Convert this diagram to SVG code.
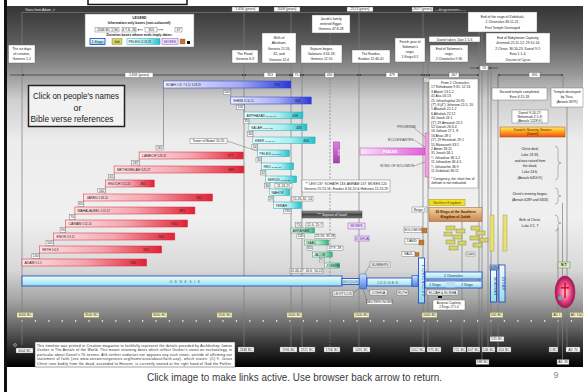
<svg xmlns="http://www.w3.org/2000/svg" width="587" height="392" viewBox="0 0 587 392">
<defs>
<linearGradient id="bg" x1="0" y1="6" x2="0" y2="367" gradientUnits="userSpaceOnUse">
<stop offset="0" stop-color="#353535"/><stop offset=".094" stop-color="#5a5a5a"/><stop offset=".19" stop-color="#9a9a9a"/><stop offset=".26" stop-color="#cfcfcf"/><stop offset=".37" stop-color="#ececec"/><stop offset=".59" stop-color="#f0f0f0"/><stop offset=".73" stop-color="#d8d8d8"/><stop offset=".814" stop-color="#a5a5a5"/><stop offset=".884" stop-color="#6a6a6a"/><stop offset=".94" stop-color="#333"/><stop offset="1" stop-color="#000"/>
</linearGradient>
<linearGradient id="gR"><stop offset="0" stop-color="#fde2e5"/><stop offset=".5" stop-color="#f5a4ae"/><stop offset="1" stop-color="#e02234"/></linearGradient>
<linearGradient id="gB"><stop offset="0" stop-color="#f2f3ff"/><stop offset=".6" stop-color="#a4aaf2"/><stop offset="1" stop-color="#2a3ad8"/></linearGradient>
<linearGradient id="gT"><stop offset="0" stop-color="#f0ffff"/><stop offset=".6" stop-color="#a8eef0"/><stop offset="1" stop-color="#26c0c8"/></linearGradient>
<linearGradient id="gG"><stop offset="0" stop-color="#f0fff4"/><stop offset=".6" stop-color="#a8e8c8"/><stop offset="1" stop-color="#36b080"/></linearGradient>
<linearGradient id="gC" x1="0" y1="0" x2="0" y2="1"><stop offset="0" stop-color="#f0ffff"/><stop offset="1" stop-color="#94dcea"/></linearGradient>
<linearGradient id="gBV" x1="0" y1="0" x2="0" y2="1"><stop offset="0" stop-color="#c8e4ff"/><stop offset="1" stop-color="#5080e0"/></linearGradient>
<linearGradient id="gO" x1="0" y1="0" x2="0" y2="1"><stop offset="0" stop-color="#ffec60"/><stop offset=".5" stop-color="#ffa020"/><stop offset="1" stop-color="#ee5010"/></linearGradient>
<linearGradient id="gTan" x1="0" y1="0" x2="0" y2="1"><stop offset="0" stop-color="#f6d4a4"/><stop offset="1" stop-color="#c88850"/></linearGradient>
<linearGradient id="gP"><stop offset="0" stop-color="#f8e2f8"/><stop offset="1" stop-color="#e060d8"/></linearGradient>
<linearGradient id="gPV" x1="0" y1="0" x2="0" y2="1"><stop offset="0" stop-color="#e080e0"/><stop offset="1" stop-color="#a040b0"/></linearGradient>
<linearGradient id="gGr" x1="0" y1="0" x2="0" y2="1"><stop offset="0" stop-color="#9a9a9a"/><stop offset=".5" stop-color="#444"/><stop offset="1" stop-color="#777"/></linearGradient>
<radialGradient id="gE"><stop offset="0" stop-color="#ffe0ec"/><stop offset=".55" stop-color="#e85090"/><stop offset="1" stop-color="#a01048"/></radialGradient>
<marker id="ar" viewBox="0 0 6 6" refX="6" refY="3" markerWidth="3" markerHeight="3" orient="auto-start-reverse"><path d="M0,0L6,3L0,6z" fill="#333"/></marker>
</defs>
<style>
.b{fill:#fff;stroke:#606060;stroke-width:.4}
.t{font-family:"Liberation Sans",Arial,sans-serif;font-size:3.4px;fill:#222}
.m{text-anchor:middle}
.v{stroke:#7c7c7c;stroke-width:.7;fill:none}
.r{fill:url(#gR);stroke:#d42a3a;stroke-width:.5}
.bl{fill:url(#gB);stroke:#2a3ad0;stroke-width:.5}
.tl{fill:url(#gT);stroke:#22a8b4;stroke-width:.5}
.gr{fill:url(#gG);stroke:#2e9a6e;stroke-width:.5}
.cy{fill:url(#gC);stroke:#1a3cc8;stroke-width:.8}
.yl{fill:#fbf6c8;stroke:#8a8a50;stroke-width:.4}
.ol{fill:#d6d46a;stroke:#7a7a30;stroke-width:.4}
.ld{stroke:#555;stroke-width:.4;fill:none}
.sp{stroke:#333;stroke-width:.7;fill:none;marker-start:url(#ar);marker-end:url(#ar)}
</style>
<rect width="587" height="392" fill="#fff"/>
<g id="frame">
<rect x="7" y="6" width="576" height="361" fill="url(#bg)"/>
<rect x="4" y="0" width="3" height="392" fill="#111"/>
<rect x="88" y="-4" width="99" height="8.5" fill="#fff" stroke="#111" stroke-width="1.5"/>
<line x1="21.4" y1="321" x2="573" y2="321" stroke="#f4f4f4" stroke-width="1.3" stroke-dasharray="1.3 12.1"/>
</g>
<g id="connectors">
<line class="v" x1="22" y1="12.5" x2="480" y2="12.5"/>
<line class="v" x1="22" y1="12.5" x2="22" y2="345"/>
<line class="v" x1="244" y1="12.5" x2="244" y2="347"/>
<line class="v" x1="291" y1="12.5" x2="291" y2="347"/>
<line class="v" x1="302" y1="63" x2="302" y2="347"/>
<line class="v" x1="330" y1="33" x2="330" y2="347" stroke-dasharray="2 1.5"/>
<line class="v" x1="359" y1="12.5" x2="359" y2="347"/>
<line class="v" x1="423" y1="12.5" x2="423" y2="347"/>
<line class="v" x1="428" y1="62" x2="428" y2="347"/>
<line class="v" x1="462" y1="222" x2="462" y2="347"/>
<line class="v" x1="479" y1="32" x2="479" y2="347"/>
<line class="v" x1="482" y1="32" x2="482" y2="361"/>
<line class="v" x1="488" y1="63" x2="488" y2="347"/>
<line class="v" x1="491" y1="63" x2="491" y2="337"/>
<line class="v" x1="498" y1="75" x2="498" y2="347"/>
<line class="v" x1="558" y1="228" x2="558" y2="347"/>
<line class="v" x1="562.5" y1="203" x2="562.5" y2="361"/>
<line class="v" x1="567" y1="107" x2="567" y2="347"/>
<line class="v" x1="163.5" y1="88" x2="163.5" y2="145.5"/>
<line x1="10" y1="75" x2="22" y2="75" stroke="#333" stroke-width=".7"/>
<line class="sp" x1="22" y1="75" x2="244" y2="75"/>
<line class="sp" x1="244" y1="75" x2="291" y2="75"/>
<line class="sp" x1="291" y1="75" x2="302" y2="75"/>
<line class="sp" x1="302" y1="75" x2="359" y2="75"/>
<line class="sp" x1="359" y1="75" x2="423" y2="75"/>
<line class="sp" x1="423" y1="75" x2="428" y2="75"/>
<line class="sp" x1="428" y1="75" x2="479" y2="75"/>
<line x1="470" y1="68" x2="479" y2="68" stroke="#333" stroke-width=".6" marker-end="url(#ar)"/>
<line x1="498" y1="68" x2="489" y2="68" stroke="#333" stroke-width=".6" marker-end="url(#ar)"/>
<line class="sp" x1="498" y1="75" x2="563" y2="75"/>
<line class="v" x1="498" y1="75" x2="498" y2="87"/>
<line class="v" x1="563" y1="75" x2="563" y2="87"/>
<line class="ld" x1="139.1" y1="159" x2="139.1" y2="166"/>
<line class="ld" x1="114.1" y1="173" x2="114.1" y2="180"/>
<line class="ld" x1="105.3" y1="187" x2="105.3" y2="194"/>
<line class="ld" x1="83.6" y1="201" x2="83.6" y2="207"/>
<line class="ld" x1="74.9" y1="214" x2="74.9" y2="220"/>
<line class="ld" x1="65.6" y1="227" x2="65.6" y2="233"/>
<line class="ld" x1="53.5" y1="240" x2="53.5" y2="246"/>
<line class="ld" x1="39.4" y1="253" x2="39.4" y2="259"/>
<line class="ld" x1="230.8" y1="88" x2="230.8" y2="97"/>
<line class="ld" x1="244.2" y1="104" x2="244.2" y2="112"/>
<line class="ld" x1="248.9" y1="118.5" x2="248.9" y2="124"/>
<line class="ld" x1="252.9" y1="130.5" x2="252.9" y2="137"/>
<line class="ld" x1="257.4" y1="143.5" x2="257.4" y2="150"/>
<line class="ld" x1="261.5" y1="156.5" x2="261.5" y2="163"/>
<line class="ld" x1="265.7" y1="169.5" x2="265.7" y2="176"/>
<line class="ld" x1="269.8" y1="182.5" x2="269.8" y2="189"/>
<line class="ld" x1="273.7" y1="195.5" x2="273.7" y2="202"/>
<line class="ld" x1="227" y1="141" x2="257" y2="151"/>
<line class="ld" x1="413" y1="127" x2="425" y2="137"/>
<line class="ld" x1="414" y1="140" x2="425" y2="147"/>
<line class="ld" x1="414" y1="166" x2="425" y2="162"/>
<line class="ld" x1="370" y1="265" x2="364" y2="275"/>
<line class="ld" x1="353" y1="293" x2="360" y2="288"/>
<line class="ld" x1="370" y1="292" x2="366" y2="288"/>
<line class="ld" x1="367" y1="301" x2="363" y2="289"/>
<path class="ld" d="M555,146q3,0 3,4v10q0,3 3,3q-3,0 -3,3v10q0,4 -3,4"/>
<path class="ld" d="M555,188q3,0 3,3v3q0,2 3,2q-3,0 -3,2v3q0,3 -3,3"/>
<path class="ld" d="M555,215q3,0 3,3v3q0,2 3,2q-3,0 -3,2v3q0,3 -3,3"/>
</g>
<g id="header">
<text class="t" x="25" y="10.8" style="fill:#e8e8e8">Years from Adam -&gt;</text>
<rect class="b" x="232" y="7" width="27" height="4.5"/><text class="t m" x="245.5" y="10.4" font-size="3.2">1,656 (years)</text>
<rect class="b" x="274" y="7" width="26" height="4.5"/><text class="t m" x="287" y="10.4" font-size="3.2">2008 (years)</text>
<rect class="b" x="347" y="7" width="26" height="4.5"/><text class="t m" x="360" y="10.4" font-size="3.2">2513 (years)</text>
<rect class="b" x="412" y="7" width="21" height="4.5"/><text class="t m" x="422.5" y="10.4" font-size="3.2">2927 (years)</text>
<text class="t" x="435" y="10.6" font-size="3.2" style="fill:#ddd">—disagreement—→</text>
<rect class="b" x="125" y="72.5" width="28" height="5"/><text class="t m" x="139" y="76.2" font-size="3.2">1,656 (years)</text>
<rect class="b" x="264" y="72.5" width="12" height="5"/><text class="t m" x="270" y="76.2">353</text>
<rect class="b" x="293" y="72.5" width="7" height="5"/><text class="t m" x="296.5" y="76.2">75</text>
<rect class="b" x="325" y="72.5" width="9" height="5"/><text class="t m" x="329.5" y="76.2">430</text>
<rect class="b" x="386" y="72.5" width="12" height="5"/><text class="t m" x="392" y="76.2">479</text>
<rect class="b" x="424" y="77.5" width="5.5" height="4.5"/><text class="t m" x="426.7" y="80.9" font-size="3">37</text>
<rect class="b" x="449" y="72.5" width="10" height="5"/><text class="t m" x="454" y="76.2">267</text>
<rect class="b" x="480" y="65.8" width="8" height="4.5"/><text class="t m" x="484" y="69.2">70</text>
<rect class="b" x="529" y="72.5" width="11" height="5"/><text class="t m" x="534.5" y="76.2">490</text>
</g>
<g id="legend">
<rect x="85" y="14" width="109" height="33" fill="#fff" stroke="#777" stroke-width=".5"/>
<text class="t m" x="139.5" y="19" font-weight="bold" font-size="3.8">LEGEND</text>
<text class="t m" x="139.5" y="24.3" font-weight="bold">Information only boxes (non-coloured):</text>
<rect class="b" x="95" y="27.5" width="17" height="4.5"/><text class="t m" x="103.5" y="30.9" font-size="3">2348 BC</text>
<rect class="b" x="113" y="27.5" width="6" height="4.5"/><text class="t m" x="116" y="30.9" font-size="3">36</text>
<rect class="b" x="122" y="27.5" width="14" height="4.5"/><text class="t m" x="129" y="30.9" font-size="3">4 T.S. 26</text>
<line x1="143" y1="29.75" x2="137.5" y2="29.75" stroke="#333" stroke-width=".5" marker-end="url(#ar)"/>
<rect class="b" x="145" y="27.5" width="12" height="4.5"/><text class="t m" x="151" y="30.9" font-size="3">353</text>
<line x1="157.5" y1="29.75" x2="163" y2="29.75" stroke="#333" stroke-width=".5" marker-end="url(#ar)"/>
<rect class="b" x="175" y="27.5" width="7" height="4.5"/><text class="t m" x="178.5" y="30.9" font-size="3">37</text>
<text class="t m" x="139.5" y="35.8" font-weight="bold">Duration boxes whose ends imply dates:</text>
<rect x="90" y="38.5" width="15" height="6" fill="url(#gC)" stroke="#1a3cc8" stroke-width=".8"/><text class="t m" x="97.5" y="42.8">1 Kings</text>
<rect class="ol" x="112" y="38.5" width="10" height="6"/><text class="t m" x="117" y="42.8">Job</text>
<rect class="tl" x="127" y="38.5" width="33" height="6"/><text class="t" x="128.5" y="42.8">PELEG <tspan font-size="2.6">11:18-19</tspan></text>
<rect x="162" y="38.5" width="16" height="6" fill="#f0e0fa" stroke="#9050c0" stroke-width=".5"/><text class="t m" x="170" y="42.8" style="fill:#6030a0">MOSES</text>
<rect x="180" y="39" width="5" height="5" fill="#c07830" stroke="#805020" stroke-width=".3"/>
<rect x="187" y="41" width="3" height="3" fill="#111"/>
</g>
<g id="info-boxes">
<g id="n-sixdays"><rect class="b" x="8.5" y="45" width="26.5" height="18"/><text class="t m" x="21.7" y="50.3" font-size="3.5"><tspan x="21.7">The six days</tspan><tspan x="21.7" dy="4.8">of creation,</tspan><tspan x="21.7" dy="4.8">Genesis 1-2</tspan></text></g>
<g id="n-flood"><rect class="b" x="232" y="50" width="26" height="13"/><text class="t m" x="245" y="55.2" font-size="3.6"><tspan x="245">The Flood,</tspan><tspan x="245" dy="5">Genesis 6-9</tspan></text></g>
<g id="n-abraham"><rect class="b" x="262" y="33" width="34" height="30"/><text class="t m" x="279" y="38.5" font-size="3.6"><tspan x="279">Birth of</tspan><tspan x="279" dy="5.5">Abraham,</tspan><tspan x="279" dy="5.5">Genesis 11:26,</tspan><tspan x="279" dy="5.5">32, and</tspan><tspan x="279" dy="5.5">Genesis 12:4</tspan></text></g>
<g id="n-jacob"><rect class="b" x="312" y="15" width="38" height="18"/><text class="t m" x="331" y="20.2" font-size="3.6"><tspan x="331">Jacob's family</tspan><tspan x="331" dy="5">entered Egypt,</tspan><tspan x="331" dy="5">Genesis 47:8-28</tspan></text></g>
<g id="n-sojourn"><rect class="b" x="301" y="45" width="41" height="18"/><text class="t m" x="321.5" y="50.3" font-size="3.6"><tspan x="321.5">Sojourn began,</tspan><tspan x="321.5" dy="5">Galatians 3:16-18;</tspan><tspan x="321.5" dy="5">Genesis 12:10</tspan></text></g>
<g id="n-exodus"><rect class="b" x="352" y="50" width="38" height="13"/><text class="t m" x="371" y="55.2" font-size="3.6"><tspan x="371">The Exodus,</tspan><tspan x="371" dy="5">Exodus 12:40-41</tspan></text></g>
<g id="n-fourth"><rect class="b" x="395" y="38" width="30" height="24"/><text class="t m" x="410" y="43.3" font-size="3.6"><tspan x="410">Fourth year of</tspan><tspan x="410" dy="5">Solomon's</tspan><tspan x="410" dy="5">reign,</tspan><tspan x="410" dy="5">1 Kings 6:1</tspan></text></g>
<g id="n-daniel"><rect class="b" x="429" y="36.5" width="51" height="5.5"/><text class="t m" x="454.5" y="40.6" font-size="3.6">Daniel taken, Dan 1:1-6</text></g>
<g id="n-endsol"><rect class="b" x="430" y="45" width="38" height="17"/><text class="t m" x="449" y="50.2" font-size="3.6"><tspan x="449">End of Solomon's</tspan><tspan x="449" dy="4.9">reign,</tspan><tspan x="449" dy="4.9">2 Chronicles 9:30</tspan></text></g>
<g id="n-zedekiah"><rect class="b" x="468" y="12" width="69" height="20"/><text class="t m" x="502.5" y="17.6" font-size="3.6"><tspan x="502.5">End of the reign of Zedekiah,</tspan><tspan x="502.5" dy="5.5">2 Chronicles 36:11-21;</tspan><tspan x="502.5" dy="5.5">First Temple Destroyed</tspan></text></g>
<g id="n-babylon"><rect class="b" x="486" y="33" width="64" height="30"/><text class="t m" x="518" y="38.5" font-size="3.6"><tspan x="518">End of Babylonian Captivity,</tspan><tspan x="518" dy="5.5">Jeremiah 25:11-12; 29:10-14;</tspan><tspan x="518" dy="5.5">2 Chron. 36:20-23; Daniel 9:2;</tspan><tspan x="518" dy="5.5">Ezra 1:1-4,</tspan><tspan x="518" dy="5.5">Decree of Cyrus</tspan></text></g>
<g id="n-second"><rect class="b" x="492" y="88" width="55" height="12"/><text class="t m" x="519.5" y="93" font-size="3.6"><tspan x="519.5">Second temple completed,</tspan><tspan x="519.5" dy="4.8">Ezra 6:15-18</tspan></text></g>
<g id="n-titus"><rect class="b" x="551" y="88" width="32" height="19"/><text class="t m" x="567" y="93.3" font-size="3.5"><tspan x="567">Temple destroyed</tspan><tspan x="567" dy="5">by Titus,</tspan><tspan x="567" dy="5">(Annals 6979)</tspan></text></g>
<g id="n-dan9"><rect class="b" x="512" y="110" width="36" height="13"/><text class="t m" x="530" y="114" font-size="3"><tspan x="530">Daniel 9:24-27;</tspan><tspan x="530" dy="4">Nehemiah 2:1-8;</tspan><tspan x="530" dy="4">(Annals 1228 ff.)</tspan></text></g>
<g id="n-seventy"><rect x="500" y="127" width="65" height="10" fill="url(#gO)" stroke="#a05010" stroke-width=".5"/><text class="t m" x="532.5" y="131.3" font-size="3.6" style="fill:#502000"><tspan x="532.5">Daniel's Seventy Sevens</tspan><tspan x="532.5" dy="4">(Daniel)</tspan></text></g>
<g id="n-christ"><text class="t m" x="530" y="150" font-size="3.7"><tspan x="530">Christ died,</tspan><tspan x="530" dy="5.8">Luke 23:33,</tspan><tspan x="530" dy="5.8">and was raised from</tspan><tspan x="530" dy="5.8">the dead,</tspan><tspan x="530" dy="5.8">Luke 24:6,</tspan><tspan x="530" dy="5.8">(Annals 6454 ff.)</tspan></text>
<text class="t m" x="530" y="195" font-size="3.7"><tspan x="530">Christ's ministry began,</tspan><tspan x="530" dy="5.6">(Annals 6289 and 6303)</tspan></text>
<text class="t m" x="530" y="221" font-size="3.7"><tspan x="530">Birth of Christ,</tspan><tspan x="530" dy="5.6">Luke 2:1, 7</tspan></text></g>
<g id="n-click"><rect x="28.5" y="85.5" width="96" height="41" fill="#f2f2f2" stroke="#222" stroke-width="1.5"/>
<text x="33" y="99" font-family="Liberation Sans,Arial,sans-serif" font-size="9" fill="#222" textLength="86" lengthAdjust="spacingAndGlyphs">Click on people's names</text>
<text x="77.5" y="110.5" font-family="Liberation Sans,Arial,sans-serif" font-size="9" fill="#222" text-anchor="middle">or</text>
<text x="30.5" y="122" font-family="Liberation Sans,Arial,sans-serif" font-size="9" fill="#222" textLength="83" lengthAdjust="spacingAndGlyphs">Bible verse references</text></g>
</g>
<g id="patriarchs-red">
<g id="n-lamech"><rect class="r" x="139.1" y="152" width="104.1" height="7"/><text class="t" x="142" y="157" font-size="3.6">LAMECH <tspan font-size="2.7">5:28-31</tspan></text><text class="t m" x="230" y="157">777</text></g>
<g id="n-methuselah"><rect class="r" x="114.1" y="166" width="129.8" height="7"/><text class="t" x="117" y="171" font-size="3.6">METHUSELAH <tspan font-size="2.7">5:25-27</tspan></text><text class="t m" x="231" y="171">969</text></g>
<g id="n-enoch"><rect class="r" x="105.3" y="180" width="48.9" height="7"/><text class="t" x="108" y="185" font-size="3.6">ENOCH <tspan font-size="2.7">5:21-24</tspan></text><text class="t m" x="143" y="185">365</text></g>
<g id="n-jared"><rect class="r" x="83.6" y="194" width="128.9" height="7"/><text class="t" x="86.5" y="199" font-size="3.6">JARED <tspan font-size="2.7">5:18-20</tspan></text><text class="t m" x="199" y="199">962</text></g>
<g id="n-mahalaleel"><rect class="r" x="74.9" y="207" width="120" height="7"/><text class="t" x="77.5" y="212" font-size="3.6">MAHALALEEL <tspan font-size="2.7">5:15-17</tspan></text><text class="t m" x="182" y="212">895</text></g>
<g id="n-cainan"><rect class="r" x="65.6" y="220" width="121.9" height="7"/><text class="t" x="68.5" y="225" font-size="3.6">CAINAN <tspan font-size="2.7">5:12-14</tspan></text><text class="t m" x="174" y="225">910</text></g>
<g id="n-enos"><rect class="r" x="53.5" y="233" width="121.3" height="7"/><text class="t" x="56.5" y="238" font-size="3.6">ENOS <tspan font-size="2.7">5:9-11</tspan></text><text class="t m" x="161" y="238">905</text></g>
<g id="n-seth"><rect class="r" x="39.4" y="246" width="122.2" height="7"/><text class="t" x="42" y="251" font-size="3.6">SETH <tspan font-size="2.7">5:6-8</tspan></text><text class="t m" x="146" y="251">912</text></g>
<g id="n-adam"><rect class="r" x="22" y="259" width="124.6" height="7"/><text class="t" x="24.5" y="264" font-size="3.6">ADAM <tspan font-size="2.7">5:1-5</tspan></text><text class="t m" x="133" y="264">930</text></g>
<g id="ages-red" class="t" font-size="3">
<rect class="b" x="156" y="145.5" width="7.5" height="4.5"/><text class="m" x="159.8" y="148.9">182</text>
<rect class="b" x="131.6" y="160.5" width="7.5" height="4.5"/><text class="m" x="135.4" y="163.9">187</text>
<rect class="b" x="108.6" y="174.5" width="5.5" height="4.5"/><text class="m" x="111.4" y="177.9">65</text>
<rect class="b" x="97.8" y="188.2" width="7.5" height="4.5"/><text class="m" x="101.6" y="191.6">162</text>
<rect class="b" x="78.1" y="201.7" width="5.5" height="4.5"/><text class="m" x="80.9" y="205.1">65</text>
<rect class="b" x="69.4" y="214.7" width="5.5" height="4.5"/><text class="m" x="72.2" y="218.1">70</text>
<rect class="b" x="60.1" y="227.7" width="5.5" height="4.5"/><text class="m" x="62.9" y="231.1">90</text>
<rect class="b" x="46" y="240.7" width="7.5" height="4.5"/><text class="m" x="49.8" y="244.1">105</text>
<rect class="b" x="31.9" y="253.7" width="7.5" height="4.5"/><text class="m" x="35.7" y="257.1">130</text>
</g>
</g>
<g id="patriarchs-postflood">
<g id="n-noah"><rect class="bl" x="163.5" y="81" width="127.3" height="7"/><text class="t" x="166" y="86" font-size="3.4">NOAH <tspan font-size="2.6">5:32; 7:6-11; 9:28-29</tspan></text><text class="t m" x="277" y="86">950</text></g>
<g id="n-shem"><rect class="bl" x="230.8" y="97" width="80.4" height="7"/><text class="t" x="233" y="102" font-size="3.4">SHEM <tspan font-size="2.6">11:10-11</tspan></text><text class="t m" x="298" y="102">600</text></g>
<g id="n-arphaxad"><rect class="tl" x="244.2" y="112" width="58.7" height="6.5"/><text class="t" x="246.5" y="116.7" font-size="3.2">ARPHAXAD <tspan font-size="2.5">11:10-13</tspan></text><text class="t m" x="295" y="116.7">438</text></g>
<g id="n-salah"><rect class="tl" x="248.9" y="124" width="58" height="6.5"/><text class="t" x="251" y="128.7" font-size="3.2">SALAH <tspan font-size="2.5">11:14-15</tspan></text><text class="t m" x="299" y="128.7">433</text></g>
<g id="n-eber"><rect class="tl" x="252.9" y="137" width="62.2" height="6.5"/><text class="t" x="255" y="141.7" font-size="3.2">EBER <tspan font-size="2.5">11:16-17</tspan></text><text class="t m" x="306" y="141.7">464</text></g>
<g id="n-peleg"><rect class="tl" x="257.4" y="150" width="32" height="6.5"/><text class="t" x="259.5" y="154.7" font-size="3.2">PELEG <tspan font-size="2.5">11:18-19</tspan></text></g>
<g id="n-reu"><rect class="tl" x="261.5" y="163" width="32" height="6.5"/><text class="t" x="263.5" y="167.7" font-size="3.2">REU <tspan font-size="2.5">11:20-21</tspan></text></g>
<g id="n-serug"><rect class="tl" x="265.7" y="176" width="30.8" height="6.5"/><text class="t" x="267.5" y="180.7" font-size="3.2">SERUG <tspan font-size="2.5">11:22-23</tspan></text></g>
<g id="n-nahor"><rect class="tl" x="269.8" y="189" width="19.8" height="6.5"/><text class="t" x="271.5" y="193.7" font-size="3.2">NAHOR</text></g>
<g id="n-terah"><rect class="tl" x="273.7" y="202" width="27.5" height="6.5"/><text class="t" x="275.5" y="206.7" font-size="3.2">TERAH</text></g>
<g id="n-abraham-bar"><rect class="gr" x="291" y="228" width="23.5" height="5"/><text class="t" x="292.5" y="231.6" font-size="2.8">ABRAHAM</text></g>
<g id="n-isaac"><rect class="gr" x="304.4" y="240" width="24.1" height="5"/><text class="t" x="306" y="243.6" font-size="2.8">ISAAC</text></g>
<g id="n-jacob-bar"><rect class="gr" x="312.5" y="252" width="19.7" height="5"/><text class="t" x="314" y="255.6" font-size="2.8">JACOB</text></g>
<g id="n-joseph"><rect class="gr" x="324.7" y="263" width="14.7" height="5"/><text class="t" x="326" y="266.6" font-size="2.8">JOSEPH</text></g>
<g id="ages-post" class="t" font-size="3">
<rect class="b" x="223.3" y="90" width="7.5" height="4.5"/><text class="m" x="227" y="93.4">500</text>
<rect class="b" x="236.7" y="105" width="7.5" height="4.5"/><text class="m" x="240.4" y="108.4">100</text>
<rect class="b" x="243.4" y="119" width="5.5" height="4.5"/><text class="m" x="246.2" y="122.4">35</text>
<rect class="b" x="247.4" y="131.7" width="5.5" height="4.5"/><text class="m" x="250.2" y="135.1">30</text>
<rect class="b" x="251.9" y="144.5" width="5.5" height="4.5"/><text class="m" x="254.7" y="147.9">34</text>
<rect class="b" x="256" y="157.5" width="5.5" height="4.5"/><text class="m" x="258.8" y="160.9">30</text>
<rect class="b" x="260.2" y="170.5" width="5.5" height="4.5"/><text class="m" x="263" y="173.9">32</text>
<rect class="b" x="264.3" y="183.5" width="5.5" height="4.5"/><text class="m" x="267.1" y="186.9">30</text>
<rect class="b" x="268.2" y="196.5" width="5.5" height="4.5"/><text class="m" x="271" y="199.9">29</text>
<rect class="b" x="283.5" y="209" width="7.5" height="4.5"/><text class="m" x="287.2" y="212.4">130</text>
<rect class="b" x="275" y="183.5" width="17" height="4.5"/><text class="m" x="283.5" y="186.9">11:24-25</text>
<rect class="b" x="292" y="196.5" width="21" height="4.5"/><text class="m" x="302.5" y="199.9">11:26-32; 24</text>
<rect class="b" x="295.5" y="222.5" width="5.5" height="4.5"/><text class="m" x="298.2" y="225.9">75</text>
<rect class="b" x="306" y="222.5" width="17" height="4.5"/><text class="m" x="314.5" y="225.9">12:4; 25:7</text>
<rect class="b" x="296.9" y="234" width="7.5" height="4.5"/><text class="m" x="300.6" y="237.4">100</text>
<rect class="b" x="315" y="234" width="20" height="4.5"/><text class="m" x="325" y="237.4">25:26; 35:28</text>
<rect class="b" x="307" y="246" width="5.5" height="4.5"/><text class="m" x="309.7" y="249.4">60</text>
<rect class="b" x="327" y="246" width="16" height="4.5"/><text class="m" x="335" y="249.4">47:9, 28</text>
<rect class="b" x="319.2" y="257.5" width="5.5" height="4.5"/><text class="m" x="322" y="260.9">91</text>
<rect class="b" x="290" y="268.5" width="33" height="4.5"/><text class="m" x="306.5" y="271.9">41:46-47; 45:6; 50:22</text>
</g>
<g id="n-babel"><rect class="b" x="190" y="138.5" width="37" height="5"/><text class="t m" x="208.5" y="142.1" font-size="3">Tower of Babel 10:25</text></g>
</g>
<g id="middle">
<g id="n-levi"><rect class="b" x="302" y="180" width="88" height="12"/><text class="t m" x="346" y="185" font-size="3.1"><tspan x="346">** LEVI 137; KOHATH 133; AMRAM 137; MOSES 120</tspan><tspan x="346" dy="4.6">Genesis 15:13-16; Exodus 6:16-20 &amp; Hebrews 11:23-29</tspan></text></g>
<g id="n-sojourn-bar"><rect x="302" y="211" width="60" height="7" fill="url(#gGr)" stroke="#333" stroke-width=".4"/><text class="t m" x="332" y="215.8" style="fill:#fff">*** Sojourn of Israel</text></g>
<g id="n-moses"><rect x="348" y="223" width="17" height="6" fill="#f0e0fa" stroke="#9050c0" stroke-width=".5"/><text class="t m" x="356.5" y="227.2" font-size="3" style="fill:#6030a0">MOSES</text></g>
<g id="n-joshua"><rect x="355" y="236" width="14" height="5" fill="#f0e0fa" stroke="#9050c0" stroke-width=".5"/><text class="t m" x="362" y="239.6" font-size="3" style="fill:#6030a0">JOSHUA</text></g>
<g id="n-job"><rect x="333.5" y="142" width="6" height="21" fill="url(#gPV)" stroke="#903090" stroke-width=".5"/><text class="t m" transform="translate(337.7,152.5) rotate(90)" font-size="3.4" style="fill:#fff">JOB</text></g>
<g id="n-psalms"><rect x="360" y="148" width="65" height="7" fill="url(#gP)" stroke="#c040b8" stroke-width=".5"/><text class="t" x="383" y="153.2" font-size="4" font-weight="bold" style="fill:#fff">PSALMS</text></g>
<g id="n-solwrit"><rect x="425" y="133" width="4.5" height="44" fill="#f0a0e0" stroke="#c050b0" stroke-width=".5"/>
<text class="t" x="397" y="128.2" font-size="2.8" style="fill:#444">PROVERBS</text>
<text class="t" x="388" y="141.2" font-size="2.8" style="fill:#444">ECCLESIASTES</text>
<text class="t" x="380" y="167.2" font-size="2.8" style="fill:#444">SONG OF SOLOMON</text></g>
<g id="n-chron"><rect class="b" x="429" y="79" width="49" height="109"/>
<text class="t" font-size="3.1" x="431" y="84"><tspan x="441">From 2 Chronicles:</tspan><tspan x="431" dy="4.4">17 Rehoboam 9:31; 12:13</tspan><tspan x="431" dy="4.4">3  Abijah 13:1-2</tspan><tspan x="431" dy="4.4">41  Asa 16:13</tspan><tspan x="431" dy="4.4">25 Jehoshaphat 20:31</tspan><tspan x="431" dy="4.4">(7*) 8 (4*) Jehoram 21:5, 20</tspan><tspan x="431" dy="4.4">1  Ahaziah 22:1-2</tspan><tspan x="431" dy="4.4">6  Athaliah 22:12</tspan><tspan x="431" dy="4.4">40  Joash 24:1</tspan><tspan x="431" dy="4.4">(1*) 29 Amaziah 25:1</tspan><tspan x="431" dy="4.4">52 Uzziah 26:3-4</tspan><tspan x="431" dy="4.4">16 Jotham 27:1, 8</tspan><tspan x="431" dy="4.4">16 Ahaz 28:1</tspan><tspan x="431" dy="4.4">(1*) 29 Hezekiah 29:1</tspan><tspan x="431" dy="4.4">55 Manasseh 33:1</tspan><tspan x="431" dy="4.4">2  Amon 33:21</tspan><tspan x="431" dy="4.4">31 Josiah 34:1</tspan><tspan x="431" dy="4.4">¼  Jehoahaz 36:1-2</tspan><tspan x="431" dy="4.4">11 Jehoiakim 36:4-5</tspan><tspan x="431" dy="4.4">¼  Jehoiachin 36:9</tspan><tspan x="431" dy="4.4">11 Zedekiah 36:11</tspan><tspan x="431" dy="7.5">* Coregency, the short line of</tspan><tspan x="431" dy="4.4">Jotham is not indicated.</tspan></text></g>
<g id="n-northern"><rect x="429" y="199.5" width="36" height="6" fill="#f2e020" stroke="#a89800" stroke-width=".5"/><text class="t m" x="447" y="203.8" font-size="3.1" style="fill:#5a4a00">Northern Kingdom</text></g>
<g id="n-southern"><rect x="429" y="207.5" width="53" height="14" fill="url(#gTan)" stroke="#906030" stroke-width=".5"/><text class="t m" x="455.5" y="213.3" font-size="3.4" font-weight="bold" style="fill:#402000"><tspan x="455.5">20 Kings of the Southern</tspan><tspan x="455.5" dy="4.8">Kingdom of Judah</tspan></text></g>
<g id="n-reign"><rect class="b" x="412" y="207" width="15" height="5"/><text class="t m" x="419.5" y="210.6" font-size="3">Reign 2</text></g>
<g id="n-solomon"><rect class="b" x="404" y="227" width="18" height="5.5"/><text class="t m" x="413" y="230.9" font-size="3">SOLOMON</text><rect x="422" y="228" width="5" height="5" fill="#c07830" stroke="#805020" stroke-width=".3"/></g>
<g id="n-david"><rect class="b" x="405" y="238.5" width="14" height="5.5"/><text class="t m" x="412" y="242.4" font-size="3">DAVID</text><rect x="419" y="240" width="5" height="5" fill="#c07830" stroke="#805020" stroke-width=".3"/></g>
<g id="n-saul"><rect class="b" x="402" y="251.5" width="13" height="5"/><text class="t m" x="408.5" y="255.1" font-size="3">SAUL</text><rect x="415" y="252.5" width="4" height="4" fill="#c07830" stroke="#805020" stroke-width=".3"/></g>
<g id="n-prophets">
<rect class="ol" x="446" y="226" width="9" height="4"/><rect class="ol" x="456" y="229" width="9" height="4"/><rect class="ol" x="444" y="232" width="8" height="4"/><rect class="ol" x="453" y="235" width="9" height="4"/><rect class="ol" x="446" y="240" width="9" height="4"/><rect class="ol" x="458" y="241" width="8" height="4"/><rect class="ol" x="449" y="246" width="9" height="4"/>
<rect class="ol" x="471" y="226" width="9" height="4"/><rect class="ol" x="476" y="231" width="9" height="4"/><rect class="ol" x="470" y="236" width="9" height="4"/><rect class="ol" x="480" y="238" width="8" height="4"/><rect class="ol" x="473" y="243" width="9" height="4"/>
<rect class="b" x="466" y="252" width="9" height="4"/><text class="t m" x="470.5" y="255.1" font-size="2.6">Later</text>
<rect class="yl" x="490" y="215" width="4" height="36" style="fill:#ece070"/><rect class="yl" x="503" y="215" width="4" height="36" style="fill:#ece070"/></g>
</g>
<g id="books">
<g id="n-genesis"><rect class="cy" x="22" y="276" width="320" height="10" stroke-width="1.4"/><text class="t m" x="186" y="283.2" font-size="5.5" letter-spacing="2.5" style="fill:#4a6a80">GENESIS</text></g>
<g id="n-exodus"><rect class="cy" x="342" y="278.5" width="17" height="6" stroke-width=".6"/><text class="t m" x="350.5" y="282.6" font-size="2.8" style="fill:#4a6a80">EXODUS</text></g>
<rect x="359.5" y="274" width="7" height="15" rx="1.5" fill="url(#gBV)" stroke="#3050d0" stroke-width=".5"/>
<g id="n-judges"><rect class="cy" x="367" y="278" width="45" height="8"/><text class="t m" x="388" y="283.5" font-size="4.6" letter-spacing="1.4" style="fill:#406070">JUDGES</text></g>
<rect x="412" y="275.5" width="6" height="11" fill="url(#gBV)" stroke="#2040c8" stroke-width=".6"/>
<g id="n-1chron"><rect class="cy" x="418.5" y="258" width="6" height="45"/><text class="t m" transform="translate(421.5,280.5) rotate(90)" font-size="3" letter-spacing=".6" style="fill:#2040a0">1 CHRONICLES</text></g>
<g id="n-2chron"><rect class="cy" x="425" y="272" width="57" height="7"/><text class="t m" x="453.5" y="276.8" font-size="3.6" style="fill:#203060">2 Chronicles</text></g>
<g id="n-kings"><rect class="cy" x="425" y="281" width="57" height="7"/><rect x="446" y="281.6" width="9" height="5.8" fill="#b8e0f8"/><text class="t m" x="435" y="285.8" font-size="3.6" style="fill:#203060">1 Kings</text><text class="t m" x="467" y="285.8" font-size="3.6" style="fill:#203060">2 Kings</text></g>
<g id="n-ezra"><rect x="490" y="265" width="10" height="5" fill="#a0c8f0" stroke="#2040c8" stroke-width=".5"/><text class="t m" x="495" y="268.7" font-size="2.6">EZRA</text><rect class="cy" x="490.5" y="270" width="6" height="32"/><rect class="cy" x="499" y="265" width="6" height="37"/>
<text class="t m" transform="translate(493.5,286) rotate(90)" font-size="2.6" style="fill:#2040a0">NEHEMIAH</text><text class="t m" transform="translate(502,283.5) rotate(90)" font-size="2.6" style="fill:#2040a0">ESTHER</text></g>
<g class="t" font-size="2.8">
<rect class="b" x="370" y="262" width="20" height="5"/><text class="m" x="380" y="265.5">NUMBERS</text>
<rect class="b" x="333" y="291" width="20" height="5"/><text class="m" x="343" y="294.5">LEVITICUS</text>
<rect class="b" x="370" y="290" width="17" height="5"/><text class="m" x="378.5" y="293.5">JOSHUA</text>
<rect class="b" x="367" y="299.5" width="25" height="5"/><text class="m" x="379.5" y="303">DEUTERONOMY</text>
<rect class="b" x="397" y="290" width="11" height="5"/><text class="m" x="402.5" y="293.5">RUTH</text>
<rect class="b" x="427" y="290" width="31" height="5"/><text class="m" x="442.5" y="293.5">ELIJAH &amp; ELISHA</text>
<rect x="438" y="296" width="4" height="2" fill="#111"/>
<rect class="b" x="433" y="300" width="32" height="10"/><text class="m" x="449" y="304.2" font-size="3"><tspan x="449">Assyrian Captivity,</tspan><tspan x="449" dy="4">2 Kings 17:1-6</tspan></text>
</g>
<g id="n-nt"><rect x="558" y="262" width="12" height="6" fill="#d8f0c0" stroke="#555" stroke-width=".4"/><text class="t m" x="564" y="266.3" font-size="3.3" font-weight="bold">N.T.</text></g>
<g id="n-cross"><ellipse cx="565" cy="292" rx="10" ry="16" fill="url(#gE)" stroke="#b02060" stroke-width=".6"/><rect x="564.2" y="283" width="1.6" height="15" fill="#e01010"/><rect x="561" y="287" width="8" height="1.6" fill="#e01010"/><circle cx="560" cy="298" r="2" fill="#40c0c0"/></g>
</g>
<g id="scale" class="t" font-size="3">
<rect class="yl" x="17" y="312.5" width="16" height="5"/><text class="m" x="25" y="316.1">4000 BC</text>
<rect class="yl" x="84" y="312.5" width="15" height="5"/><text class="m" x="91.5" y="316.1">3500 BC</text>
<rect class="yl" x="152" y="312.5" width="15" height="5"/><text class="m" x="159.5" y="316.1">3000 BC</text>
<rect class="yl" x="217" y="312.5" width="15" height="5"/><text class="m" x="224.5" y="316.1">2500 BC</text>
<rect class="yl" x="287" y="312.5" width="15" height="5"/><text class="m" x="294.5" y="316.1">2000 BC</text>
<rect class="yl" x="354" y="312.5" width="15" height="5"/><text class="m" x="361.5" y="316.1">1500 BC</text>
<rect class="yl" x="422" y="312.5" width="15" height="5"/><text class="m" x="429.5" y="316.1">1000 BC</text>
<rect class="yl" x="490" y="312.5" width="13" height="5"/><text class="m" x="496.5" y="316.1">500 BC</text>
<rect class="yl" x="552" y="312.5" width="10" height="5"/><text class="m" x="557" y="316.1">AD 1</text>
<rect class="yl" x="570" y="312.5" width="13" height="5"/><text class="m" x="576.5" y="316.1">AD 100</text>
<circle cx="15" cy="345" r="1.4" fill="none" stroke="#eee" stroke-width=".5"/>
<rect class="b" x="16" y="348" width="17" height="5"/><text class="m" x="24.5" y="351.6">4004 BC</text>
<rect class="b" x="238" y="347" width="16" height="5"/><text class="m" x="246" y="350.6">2348 BC</text>
<rect class="b" x="280" y="347" width="17" height="5"/><text class="m" x="288.5" y="350.6">1996 BC</text>
<rect class="b" x="299" y="347" width="16" height="5"/><text class="m" x="307" y="350.6">1921 BC</text>
<rect class="b" x="324" y="347" width="16" height="5"/><text class="m" x="332" y="350.6">1706 BC</text>
<rect class="b" x="353" y="347" width="17" height="5"/><text class="m" x="361.5" y="350.6">1491 BC</text>
<rect class="b" x="410" y="347" width="15" height="5"/><text class="m" x="417.5" y="350.6">1012 BC</text>
<rect class="b" x="427" y="347" width="14" height="5"/><text class="m" x="434" y="350.6">975 BC</text>
<rect class="b" x="453" y="347" width="13" height="5"/><text class="m" x="459.5" y="350.6">721 BC</text>
<rect class="b" x="467" y="347" width="13" height="5"/><text class="m" x="473.5" y="350.6">607 BC</text>
<rect class="b" x="482" y="347" width="13" height="5"/><text class="m" x="488.5" y="350.6">536 BC</text>
<rect class="b" x="497" y="347" width="14" height="5"/><text class="m" x="504" y="350.6">454 BC</text>
<rect class="b" x="490" y="336.5" width="14" height="5"/><text class="m" x="497" y="340.1">515 BC</text>
<rect class="b" x="549" y="347" width="9" height="5"/><text class="m" x="553.5" y="350.6">5 BC</text>
<rect class="b" x="566" y="347" width="14" height="5"/><text class="m" x="573" y="350.6">AD 70</text>
<rect class="b" x="476" y="359.5" width="13" height="5"/><text class="m" x="482.5" y="363.1">588 BC</text>
<rect class="b" x="557" y="359.5" width="12" height="5"/><text class="m" x="563" y="363.1">AD 33</text>
</g>
<g id="footnote"><rect x="35" y="342" width="200" height="25" fill="#fff" stroke="#444" stroke-width=".5"/>
<text class="t" font-size="3.2" x="37" y="346.5"><tspan x="37" textLength="195">This timeline was printed in Creation magazine to faithfully represent the details provided by Archbishop James</tspan><tspan x="37" dy="4.5" textLength="195">Ussher in The Annals of the World. This meant retaining dates which reflect Ussher's views on eschatology, in</tspan><tspan x="37" dy="4.5" textLength="195">particular about Daniel's 70 sevens. AiG neither endorses nor opposes any such views, outside of affirming our</tspan><tspan x="37" dy="4.5" textLength="195">statement of faith (see www.answersingenesis.org/home/area/about/faith.asp), which states: (C) 9. Jesus</tspan><tspan x="37" dy="4.5" textLength="195">Christ rose bodily from the dead, ascended to Heaven, is currently seated at the right hand of God the Father.</tspan></text></g>
<g id="caption">
<text x="147" y="381" font-family="Liberation Sans,Arial,sans-serif" font-size="11" fill="#3a3a3a" textLength="295" lengthAdjust="spacingAndGlyphs">Click image to make links active. Use browser back arrow to return.</text>
<text x="556" y="378" font-family="Liberation Sans,Arial,sans-serif" font-size="9" fill="#8a8a8a" text-anchor="middle">9</text>
</g>
</svg>
